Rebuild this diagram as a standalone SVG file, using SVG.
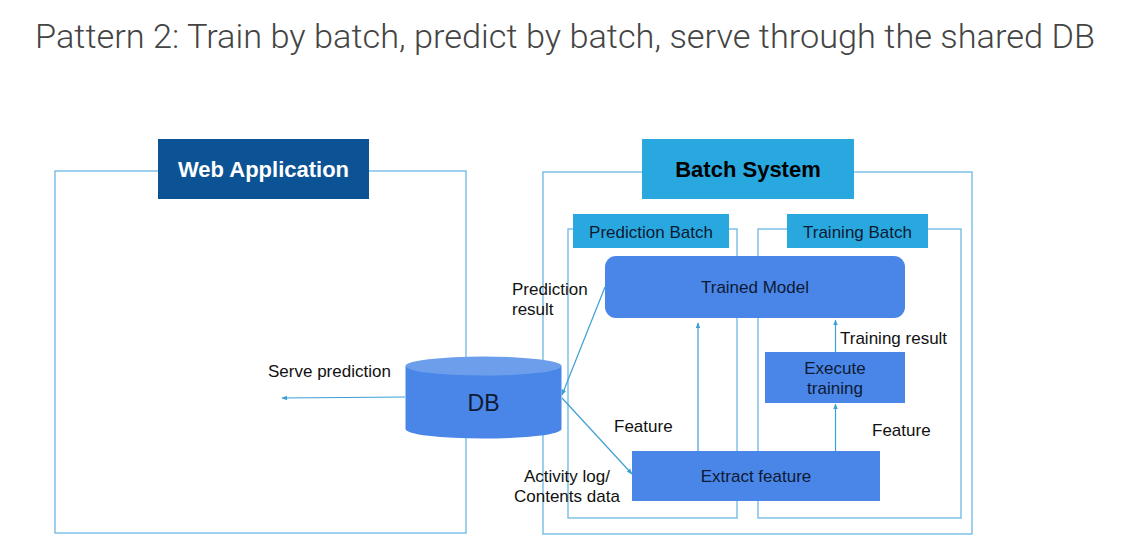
<svg xmlns="http://www.w3.org/2000/svg" width="1141" height="552" viewBox="0 0 1141 552">
<defs>
<marker id="ah" viewBox="0 0 10 10" refX="9" refY="5" markerWidth="6" markerHeight="6" orient="auto-start-reverse" markerUnits="userSpaceOnUse">
<path d="M0,1 L10,5 L0,9 z" fill="#3d9fd6"/>
</marker>
<style>
.frame{fill:none;stroke:#6ab8e4;stroke-width:1.3}
.conn{fill:none;stroke:#3d9fd6;stroke-width:1.2}
.lbl{font-family:"Liberation Sans",Arial,sans-serif;font-size:17px;fill:#111}
.node{fill:#4a86e8}
.ntxt{font-family:"Liberation Sans",Arial,sans-serif;font-size:17px;fill:#0d1a33;text-anchor:middle}
.hdr{fill:#29a8e0}
.htxt{font-family:"Liberation Sans",Arial,sans-serif;font-weight:bold;font-size:22px;text-anchor:middle}
</style>
</defs>
<rect width="1141" height="552" fill="#ffffff"/>
<text x="35" y="48" font-family="Roboto,sans-serif" font-weight="300" font-size="33" fill="#444" textLength="1060" lengthAdjust="spacingAndGlyphs">Pattern 2: Train by batch, predict by batch, serve through the shared DB</text>

<g id="web-application">
<rect class="frame" x="55" y="171" width="411" height="362"/>
<rect x="158" y="139" width="211" height="60" fill="#0b5394"/>
<text x="263.5" y="177" class="htxt" fill="#fff">Web Application</text>
</g>

<g id="batch-system">
<rect class="frame" x="543" y="172" width="429" height="362"/>
<rect class="hdr" x="642" y="139" width="212" height="60"/>
<text x="748" y="177" class="htxt" fill="#000">Batch System</text>
</g>

<g id="prediction-batch">
<rect class="frame" x="568" y="229" width="169" height="289"/>
<rect class="hdr" x="573" y="214" width="156" height="34"/>
<text x="651" y="237.5" class="ntxt">Prediction Batch</text>
</g>

<g id="training-batch">
<rect class="frame" x="758" y="229" width="203" height="289"/>
<rect class="hdr" x="787" y="214" width="141" height="34"/>
<text x="857.5" y="237.5" class="ntxt">Training Batch</text>
</g>

<g id="trained-model">
<rect class="node" x="605" y="256" width="300" height="62" rx="11"/>
<text x="755" y="293" class="ntxt">Trained Model</text>
</g>

<g id="execute-training">
<rect class="node" x="765" y="352" width="140" height="51"/>
<text x="835" y="374" class="ntxt">Execute</text>
<text x="835" y="394" class="ntxt">training</text>
</g>

<g id="extract-feature">
<rect class="node" x="632" y="451" width="248" height="50"/>
<text x="756" y="482" class="ntxt">Extract feature</text>
</g>

<g id="db">
<path d="M405.5,366 L405.5,429 A78,9.5 0 0 0 561.5,429 L561.5,366 z" fill="#4a86e8"/>
<ellipse cx="483.5" cy="366" rx="78" ry="9.5" fill="#6d9eeb"/>
<text x="483.5" y="411" font-family="Liberation Sans,Arial,sans-serif" font-size="23" fill="#0d1a33" text-anchor="middle">DB</text>
</g>

<g id="connectors">
<line class="conn" x1="405" y1="397" x2="282" y2="398" marker-end="url(#ah)"/>
<line class="conn" x1="605" y1="287" x2="562" y2="395" marker-end="url(#ah)"/>
<line class="conn" x1="562" y1="398" x2="632" y2="474" marker-end="url(#ah)"/>
<line class="conn" x1="698" y1="451" x2="698" y2="323" marker-end="url(#ah)"/>
<line class="conn" x1="835.5" y1="451" x2="835.5" y2="404" marker-end="url(#ah)"/>
<line class="conn" x1="835.5" y1="352" x2="835.5" y2="320" marker-end="url(#ah)"/>
</g>

<g id="labels">
<text x="268" y="377" class="lbl">Serve prediction</text>
<text x="512" y="295" class="lbl">Prediction</text>
<text x="512" y="315" class="lbl">result</text>
<text x="840" y="344" class="lbl">Training result</text>
<text x="614" y="432" class="lbl">Feature</text>
<text x="872" y="436" class="lbl">Feature</text>
<text x="524" y="482" class="lbl">Activity log/</text>
<text x="514" y="502" class="lbl">Contents data</text>
</g>
</svg>
